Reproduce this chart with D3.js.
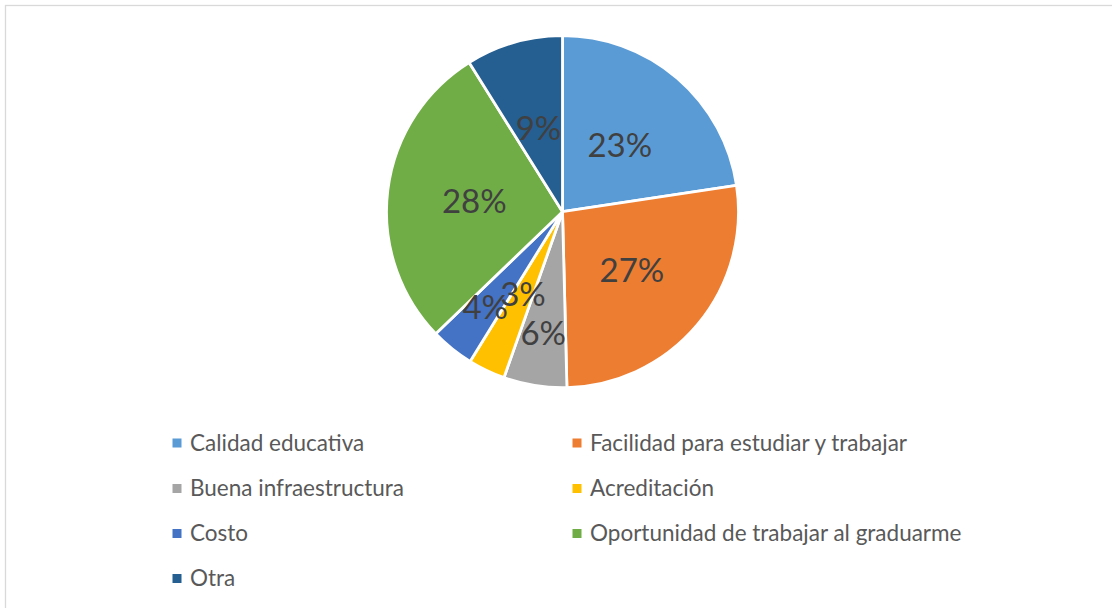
<!DOCTYPE html>
<html>
<head>
<meta charset="utf-8">
<script src="https://cdnjs.cloudflare.com/ajax/libs/d3/7.8.5/d3.min.js"></script>
<style>
  html, body { margin: 0; padding: 0; background: #fff; }
  svg { display: block; }
</style>
</head>
<body>
<svg id="chart" width="1112" height="608"></svg>
<script>
// ---- data ----
const categories = [
  "Calidad educativa",
  "Facilidad para estudiar y trabajar",
  "Buena infraestructura",
  "Acreditación",
  "Costo",
  "Oportunidad de trabajar al graduarme",
  "Otra"
];
const values = [22.6, 27.0, 5.8, 3.4, 4.0, 28.3, 8.9];
const colors = ["#5B9BD5", "#ED7D31", "#A5A5A5", "#FFC000", "#4472C4", "#70AD47", "#255E91"];
// label distance from centre, as a fraction of radius (layout)
const labelRadius = [0.5, 0.515, 0.70, 0.52, 0.70, 0.505, 0.495];

const W = 1112, H = 608;
const svg = d3.select("#chart");

// chart area border
svg.append("rect")
  .attr("x", 5.5).attr("y", 5.5)
  .attr("width", 1300).attr("height", 800)
  .attr("fill", "#fff").attr("stroke", "#d9d9d9").attr("stroke-width", 1.3);

const cx = 562.5, cy = 211.7, r = 176;
const total = d3.sum(values);
const pie = d3.pie().sort(null).value(d => d);
const arcs = pie(values);
const arc = d3.arc().innerRadius(0).outerRadius(r);

const g = svg.append("g").attr("transform", `translate(${cx},${cy})`);
g.selectAll("path.slice")
  .data(arcs)
  .join("path")
  .attr("class", "slice")
  .attr("d", arc)
  .attr("fill", (d, i) => colors[i])
  .attr("stroke", "#fff")
  .attr("stroke-width", 2.8)
  .attr("stroke-linejoin", "round");

const fmt = d3.format(".0%");
const labelSize = 33;
g.selectAll("text.lbl")
  .data(arcs)
  .join("text")
  .attr("class", "lbl")
  .each(function (d, i) {
    const a = (d.startAngle + d.endAngle) / 2;
    const rr = r * labelRadius[i];
    d3.select(this)
      .attr("x", Math.sin(a) * rr)
      .attr("y", -Math.cos(a) * rr + labelSize * 0.36);
  })
  .attr("text-anchor", "middle")
  .attr("font-family", "Lato, 'Open Sans', sans-serif")
  .attr("font-size", labelSize)
  .attr("fill", "#404040")
  .text(d => fmt(d.value / total));

// legend
const legendCols = [190, 590];
const legendRows = [442.5, 488, 533, 578];
const legendSize = 22.5;
const lg = svg.append("g");
categories.forEach((c, i) => {
  const col = i % 2, row = Math.floor(i / 2);
  const x = legendCols[col], y = legendRows[row];
  lg.append("rect")
    .attr("x", x - 17.5).attr("y", y - 4)
    .attr("width", 9).attr("height", 9)
    .attr("fill", colors[i]);
  lg.append("text")
    .attr("x", x).attr("y", y + legendSize * 0.36)
    .attr("font-family", "Lato, 'Open Sans', sans-serif")
    .attr("font-size", legendSize)
    .attr("fill", "#595959")
    .text(c);
});
</script>
</body>
</html>
